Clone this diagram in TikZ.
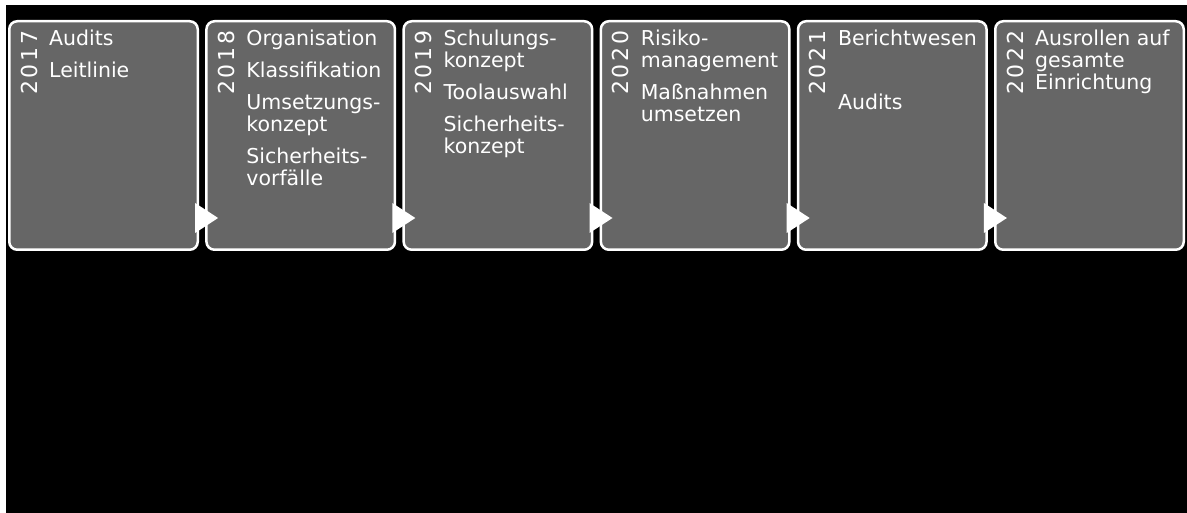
\documentclass[tikz,border=0pt]{standalone}
\usepackage{fontspec}
\setmainfont{DejaVu Sans}
\newfontfamily\yearfont[LetterSpace=12]{DejaVu Sans}
\usetikzlibrary{positioning, calc}
\definecolor{phasegrey}{HTML}{666666}
\tikzset{phase/.style={rectangle,draw=white,fill=phasegrey,line width=2.5pt,rounded corners=8pt,minimum width=188.5pt,minimum height=228.5pt,inner sep=0pt},items/.style={anchor=north west,align=left,inner sep=0pt,text=white,font=\fontsize{20.5}{22}\selectfont},year/.style={rotate=90,anchor=base west,inner sep=0pt,text=white,font=\yearfont\fontsize{22}{24}\selectfont},tri/.style={fill=white}}

\begin{document}
\begin{tikzpicture}[x=1pt,y=1pt,node distance=6.2pt]
\useasboundingbox (0,0) rectangle (1187,-513);
\fill[white] (0,0) rectangle (1187,-513);
\fill[black] (6,-5) rectangle (1187,-513);
\node[phase] (p2017) at (103.5,-135.5) {};
\node[phase, right=of p2017] (p2018) {};
\node[phase, right=of p2018] (p2019) {};
\node[phase, right=of p2019] (p2020) {};
\node[phase, right=of p2020] (p2021) {};
\node[phase, right=of p2021] (p2022) {};
\node[year] (y2017) at ([xshift=29pt,yshift=-75pt]p2017.north west) {2017};
\node[year] (y2018) at ([xshift=29pt,yshift=-75pt]p2018.north west) {2018};
\node[year] (y2019) at ([xshift=29pt,yshift=-75pt]p2019.north west) {2019};
\node[year] (y2020) at ([xshift=29pt,yshift=-75pt]p2020.north west) {2020};
\node[year] (y2021) at ([xshift=29pt,yshift=-75pt]p2021.north west) {2021};
\node[year] (y2022) at ([xshift=29pt,yshift=-75pt]p2022.north west) {2022};
\node[items] (t2017) at ([xshift=41pt,yshift=-10pt]p2017.north west) {Audits\\[10pt]Leitlinie};
\node[items] (t2018) at ([xshift=41pt,yshift=-10pt]p2018.north west) {Organisation\\[10pt]Klassifikation\\[10pt]Umsetzungs-\\konzept\\[10pt]Sicherheits-\\vorfälle};
\node[items] (t2019) at ([xshift=41pt,yshift=-10pt]p2019.north west) {Schulungs-\\konzept\\[10pt]Toolauswahl\\[10pt]Sicherheits-\\konzept};
\node[items] (t2020) at ([xshift=41pt,yshift=-10pt]p2020.north west) {Risiko-\\management\\[10pt]Maßnahmen\\umsetzen};
\node[items] (t2021) at ([xshift=41pt,yshift=-10pt]p2021.north west) {Berichtwesen\\[10pt]\mbox{}\\[10pt]Audits};
\node[items] (t2022) at ([xshift=41pt,yshift=-10pt]p2022.north west) {Ausrollen auf\\gesamte\\Einrichtung};
% arrows between the phases
\foreach \a/\b in {p2017/p2018,p2018/p2019,p2019/p2020,p2020/p2021,p2021/p2022}
  \fill[tri] ($(\a.south east)!.5!(\b.south west)+(-7,48)$) -- ++(23,-15) -- ++(-23,-15) -- cycle;
\end{tikzpicture}
\end{document}
